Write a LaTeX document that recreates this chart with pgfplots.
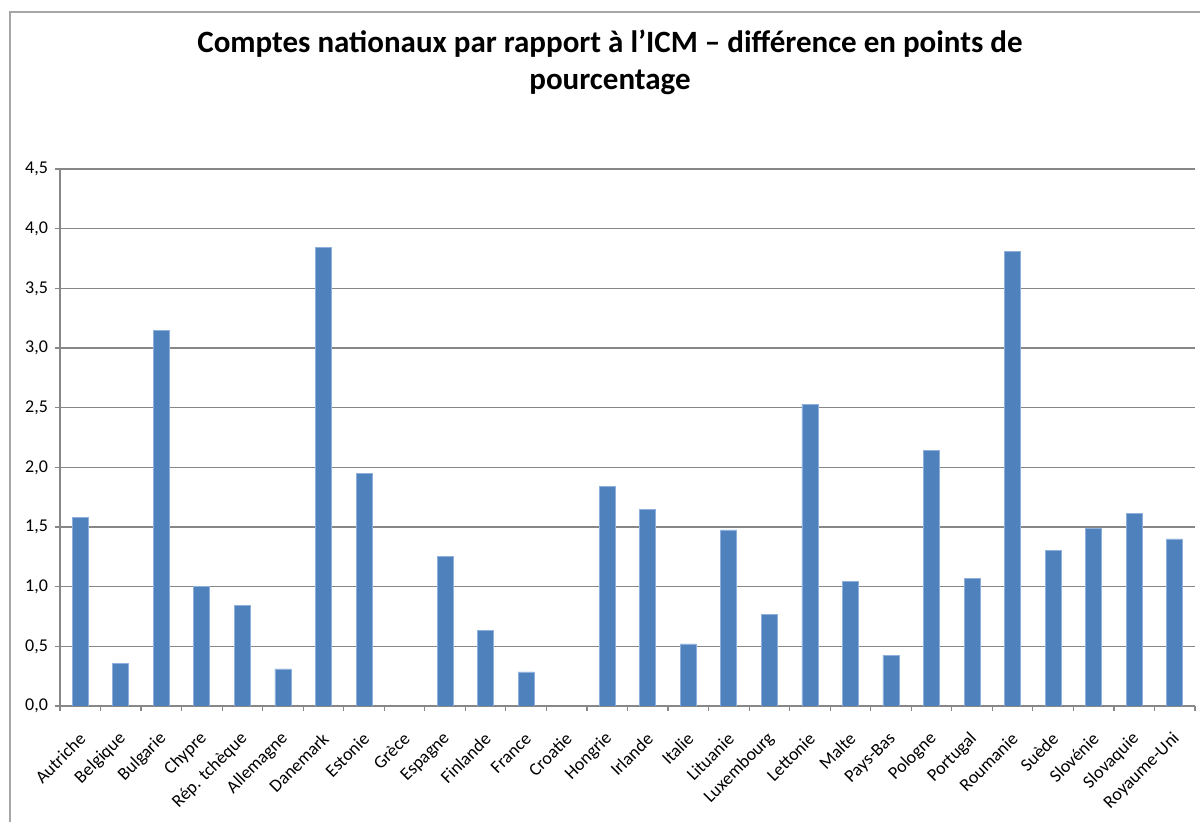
\documentclass[border=0pt]{standalone}
\usepackage{pgfplots}
\pgfplotsset{compat=1.18}
\usepackage{fontspec}
\setmainfont{Carlito}
\definecolor{barblue}{HTML}{4F81BD}
\definecolor{baredge}{HTML}{8DB0DC}
\definecolor{gridgray}{HTML}{878787}
\definecolor{framegray}{HTML}{A6A6A6}
\begin{document}
\begin{tikzpicture}
\path[use as bounding box] (0pt,0pt) rectangle (600pt,411pt);
\draw[framegray, line width=0.6pt] (5pt,0pt) -- (5pt,405pt) -- (600pt,405pt);
\begin{axis}[
  at={(30pt,58pt)}, anchor=south west,
  scale only axis, width=567.5pt, height=268.5pt,
  xmin=-0.5, xmax=27.5, ymin=0, ymax=4.5,
  ybar, bar width=8pt,
  axis x line*=bottom, axis y line*=left,
  axis line style={draw=gridgray, line width=0.6pt, -},
  tick align=outside,
  major tick length=2.5pt,
  tick style={draw=gridgray, line width=0.6pt},
  xtick={-0.5,0.5,1.5,2.5,3.5,4.5,5.5,6.5,7.5,8.5,9.5,10.5,11.5,12.5,13.5,14.5,15.5,16.5,17.5,18.5,19.5,20.5,21.5,22.5,23.5,24.5,25.5,26.5,27.5},
  xticklabel=\empty,
  extra x ticks={0,1,2,3,4,5,6,7,8,9,10,11,12,13,14,15,16,17,18,19,20,21,22,23,24,25,26,27},
  extra x tick labels={Autriche,Belgique,Bulgarie,Chypre,Rép. tchèque,Allemagne,Danemark,Estonie,Grèce,Espagne,Finlande,France,Croatie,Hongrie,Irlande,Italie,Lituanie,Luxembourg,Lettonie,Malte,Pays-Bas,Pologne,Portugal,Roumanie,Suède,Slovénie,Slovaquie,Royaume-Uni},
  extra x tick style={major tick length=0pt, grid=none,
    xticklabel style={xshift=3.5pt, yshift=-12.5pt, rotate=45, anchor=east, font=\fontsize{9}{10}\selectfont}},
  ytick={0,0.5,...,4.5},
  ymajorgrids=true,
  grid style={draw=gridgray, line width=0.6pt},
  yticklabel style={font=\fontsize{9}{10}\selectfont},
  /pgf/number format/.cd, fixed, fixed zerofill, precision=1, use comma, assume math mode=true,
]
\addplot[fill=barblue, draw=baredge, line width=0.4pt] coordinates {
  (0,1.58) (1,0.36) (2,3.15) (3,1.00) (4,0.84) (5,0.31) (6,3.84) (7,1.95)
  (9,1.25) (10,0.63) (11,0.285) (13,1.84) (14,1.65) (15,0.52)
  (16,1.475) (17,0.77) (18,2.53) (19,1.04) (20,0.425) (21,2.14) (22,1.07)
  (23,3.81) (24,1.30) (25,1.485) (26,1.615) (27,1.40)
};
\end{axis}
\node[font=\bfseries\fontsize{15.5}{18}\selectfont, anchor=base] at (305pt,384.5pt) {Comptes nationaux par rapport à l’ICM – différence en points de};
\node[font=\bfseries\fontsize{15.5}{18}\selectfont, anchor=base] at (305pt,366pt) {pourcentage};
\end{tikzpicture}
\end{document}
